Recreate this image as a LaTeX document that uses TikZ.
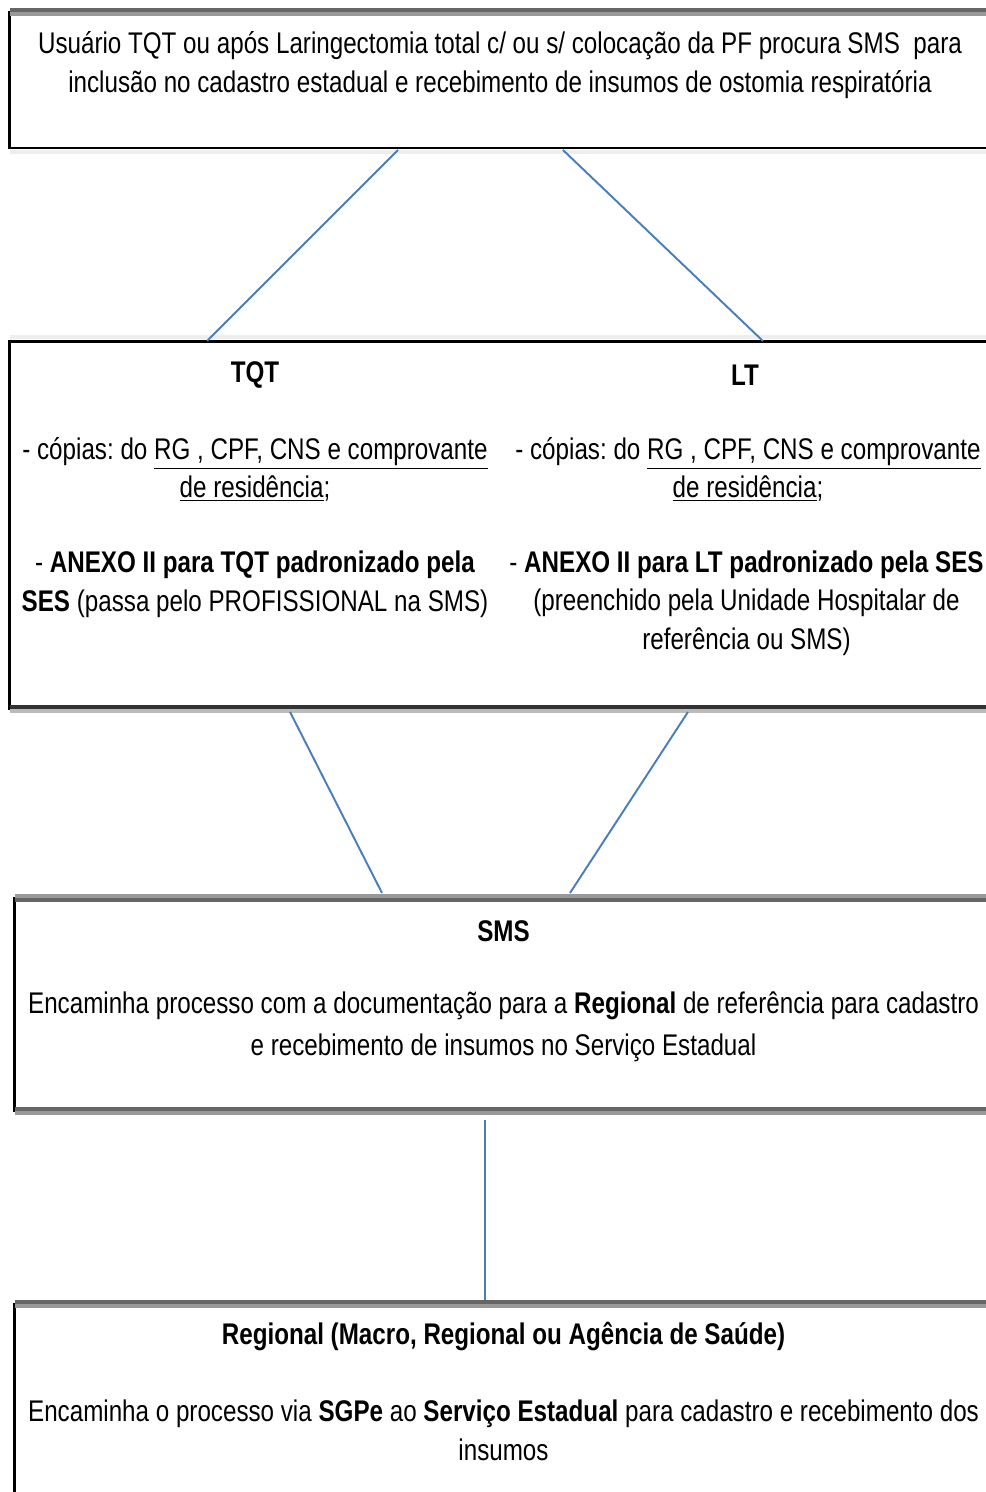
\documentclass[tikz,border=0pt]{standalone}
\usepackage{fontspec}
\setmainfont{Liberation Sans}[FakeStretch=0.81]

\definecolor{linkblue}{HTML}{4A7EBB}
\definecolor{edgedark}{HTML}{666666}
\definecolor{edgemid}{HTML}{999999}
\definecolor{edgepale}{HTML}{EEEEEE}
\definecolor{edgedeep}{HTML}{333333}
\definecolor{edgesoft}{HTML}{BBBBBB}

\begin{document}
\frenchspacing
\begin{tikzpicture}[
    x=0.02cm, y=-0.02cm,
    box/.style={rectangle, draw=black, line width=1.7pt, fill=white, outer sep=0pt, inner sep=0pt},
    txt/.style={align=center, inner sep=0pt, font=\fontsize{17}{22}\selectfont},
    strip/.style={line width=2.27pt},
    link/.style={draw=linkblue, line width=1.1pt}
]
    \useasboundingbox (0,0) rectangle (986,1492);

    % Top box: user looks for SMS
    \node[box, minimum width=19.81cm, minimum height=2.72cm] (user) at (504.75,80) {};
    \draw[strip, edgedark] ([yshift=0.04cm]user.north west) -- ([yshift=0.04cm]user.north east);
    \draw[strip, edgemid] ([yshift=-0.04cm]user.north west) -- ([yshift=-0.04cm]user.north east);
    \draw[strip, edgepale] ([yshift=-0.08cm]user.south west) -- ([yshift=-0.08cm]user.south east);
    \node[txt] (usertext) at (500,65) {Usuário TQT ou após Laringectomia total c/ ou s/ colocação da PF procura SMS\ \ para\\inclusão no cadastro estadual e recebimento de insumos de ostomia respiratória};

    % Documents box: TQT / LT
    \node[box, minimum width=19.81cm, minimum height=7.36cm] (docs) at (504.75,525) {};
    \draw[strip, edgepale] ([yshift=0.08cm]docs.north west) -- ([yshift=0.08cm]docs.north east);
    \draw[strip, edgedeep] ([yshift=0.04cm]docs.south west) -- ([yshift=0.04cm]docs.south east);
    \draw[strip, edgesoft] ([yshift=-0.04cm]docs.south west) -- ([yshift=-0.04cm]docs.south east);

    \node[txt] (tqt) at (255,375) {\textbf{TQT}};
    \node[txt] (tqtcopies) at (255,469.5) {- cópias: do \underline{RG , CPF, CNS e comprovante}\\\underline{de residência};};
    \node[txt] (tqtannex) at (255,584) {- \textbf{ANEXO II para TQT padronizado pela}\\\textbf{SES} (passa pelo PROFISSIONAL na SMS)};

    \node[txt] (lt) at (745,375) {\textbf{LT}};
    \node[txt] (ltcopies) at (748,469.5) {- cópias: do \underline{RG , CPF, CNS e comprovante}\\\underline{de residência};};
    \node[txt] (ltannex) at (746.5,603) {- \textbf{ANEXO II para LT padronizado pela SES}\\(preenchido pela Unidade Hospitalar de\\referência ou SMS)};

    % SMS box
    \node[box, minimum width=19.71cm, minimum height=4.26cm] (sms) at (507.25,1004.5) {};
    \draw[strip, edgemid] ([yshift=0.04cm]sms.north west) -- ([yshift=0.04cm]sms.north east);
    \draw[strip, edgedark] ([yshift=-0.04cm]sms.north west) -- ([yshift=-0.04cm]sms.north east);
    \draw[strip, edgedark] ([yshift=0.04cm]sms.south west) -- ([yshift=0.04cm]sms.south east);
    \draw[strip, edgemid] ([yshift=-0.04cm]sms.south west) -- ([yshift=-0.04cm]sms.south east);
    \node[txt] (smstitle) at (503.5,931) {\textbf{SMS}};
    \node[txt] (smstext) at (503.5,1027) {Encaminha processo com a documentação para a \textbf{Regional} de referência para cadastro\\[2pt]e recebimento de insumos no Serviço Estadual};

    % Regional box
    \node[box, minimum width=19.71cm, minimum height=5.92cm] (reg) at (507.25,1452) {};
    \draw[strip, edgedark] ([yshift=0.04cm]reg.north west) -- ([yshift=0.04cm]reg.north east);
    \draw[strip, edgemid] ([yshift=-0.04cm]reg.north west) -- ([yshift=-0.04cm]reg.north east);
    \node[txt] (regtitle) at (503.5,1336) {\textbf{Regional (Macro, Regional ou Agência de Saúde)}};
    \node[txt] (regtext) at (503.5,1430.5) {Encaminha o processo via \textbf{SGPe} ao \textbf{Serviço Estadual} para cadastro e recebimento dos\\insumos};

    % Connectors
    \draw[link] ([xshift=7.77cm, yshift=-0.04cm]user.south west) -- ([xshift=3.95cm]docs.north west);
    \draw[link] ([xshift=11.07cm, yshift=-0.04cm]user.south west) -- ([xshift=15.07cm]docs.north west);
    \draw[link] ([xshift=5.61cm, yshift=-0.06cm]docs.south west) -- ([xshift=7.35cm, yshift=0.1cm]sms.north west);
    \draw[link] ([xshift=13.57cm, yshift=-0.06cm]docs.south west) -- ([xshift=11.11cm, yshift=0.1cm]sms.north west);
    \draw[link] ([xshift=9.41cm, yshift=-0.18cm]sms.south west) -- ([xshift=9.41cm, yshift=0.08cm]reg.north west);
\end{tikzpicture}
\end{document}
